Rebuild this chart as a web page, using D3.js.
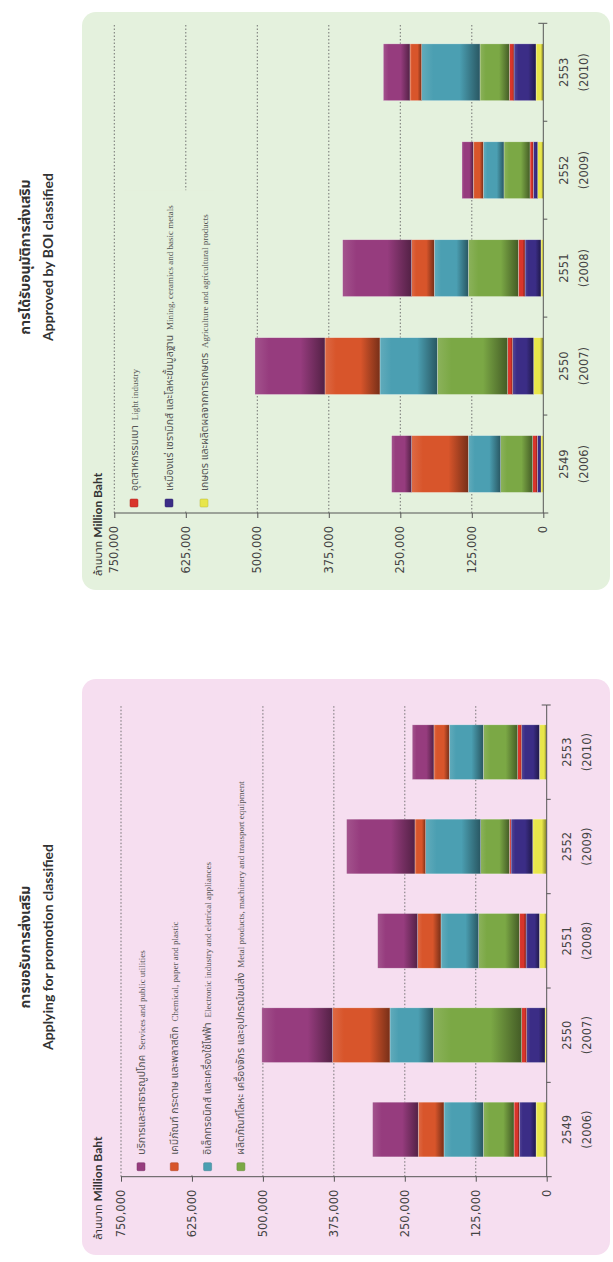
<!DOCTYPE html>
<html><head><meta charset="utf-8">
<script src="https://cdn.jsdelivr.net/npm/d3@7"></script>
<style>body{margin:0;background:#fff}svg{display:block}</style>
</head><body>
<svg id="c" width="613" height="1262"></svg>
<script>
// ---------- DATA (million baht) ----------
const years   = ["2549","2550","2551","2552","2553"];
const yearsAD = ["(2006)","(2007)","(2008)","(2009)","(2010)"];
const valueTicks = [0,125000,250000,375000,500000,625000,750000];
const seriesKeys = ["agri","mining","light","metal","electronic","chemical","services"];

// Applying for promotion
const applyAgri       = [18800,  3000, 12900, 24600, 12900];
const applyMining     = [29400, 32300, 23500, 38300, 31200];
const applyLight      = [ 9400,  8800, 11800,  2900,  7000];
const applyMetal      = [54100,155700, 71700, 50500, 60600];
const applyElectronic = [69300, 76400, 66400, 97000, 60000];
const applyChemical   = [45300,101100, 41100, 18800, 27000];
const applyServices   = [80500,124600, 70500,120500, 38200];

// Approved by BOI
const apprAgri       = [ 4100, 16900,  4100,  9900, 12800];
const apprMining     = [ 6400, 36700, 27900,  7600, 38500];
const apprLight      = [ 8100,  8800, 11700,  5800,  8100];
const apprMetal      = [56000,122900, 87400, 45500, 51300];
const apprElectronic = [56500,100300, 59500, 36100,102000];
const apprChemical   = [99100, 96100, 39600, 17500, 20400];
const apprServices   = [35000,122400,120600, 19800, 46600];

const seriesColors = {agri:"#e8e64a", mining:"#3b2d86", light:"#d9352b", metal:"#7ba845",
                      electronic:"#4b9fb2", chemical:"#d8552b", services:"#963c7e"};
const legendThai = {services:"บริการและสาธารณูปโภค", chemical:"เคมีภัณฑ์ กระดาษ และพลาสติก",
  electronic:"อิเล็กทรอนิกส์ และเครื่องใช้ไฟฟ้า", metal:"ผลิตภัณฑ์โลหะ เครื่องจักร และอุปกรณ์ขนส่ง",
  light:"อุตสาหกรรมเบา", mining:"เหมืองแร่ เซรามิกส์ และโลหะขั้นมูลฐาน", agri:"เกษตร และผลิตผลจากการเกษตร"};
const legendEng = {services:"Services and public utilities", chemical:"Chemical, paper and plastic",
  electronic:"Electronic industry and eletrical appliances", metal:"Metal products, machinery and transport equipment",
  light:"Light industry", mining:"Mining, ceramics and basic metals", agri:"Agriculture and agricultural products"};

function rows(a){ return years.map((y,i)=>({year:y, agri:a[0][i], mining:a[1][i], light:a[2][i], metal:a[3][i],
  electronic:a[4][i], chemical:a[5][i], services:a[6][i]})); }
const applyRows = rows([applyAgri,applyMining,applyLight,applyMetal,applyElectronic,applyChemical,applyServices]);
const apprRows  = rows([apprAgri,apprMining,apprLight,apprMetal,apprElectronic,apprChemical,apprServices]);

// ---------- DRAW ----------
const svg = d3.select("#c");
const defs = svg.append("defs");
seriesKeys.forEach(k=>{
  const c = d3.color(seriesColors[k]);
  const gr = defs.append("linearGradient").attr("id","g_"+k).attr("x1",0).attr("y1",0).attr("x2",0).attr("y2",1);
  gr.append("stop").attr("offset","0%").attr("stop-color", d3.interpolateRgb(c,"#fff")(0.12));
  gr.append("stop").attr("offset","20%").attr("stop-color", c.formatHex());
  gr.append("stop").attr("offset","65%").attr("stop-color", c.formatHex());
  gr.append("stop").attr("offset","100%").attr("stop-color", d3.interpolateRgb(c,"#000")(0.45));
});
const root = svg.append("g").attr("transform","translate(0,1262) rotate(-90)");
const THAI = "'Noto Sans Thai','Noto Sans Thai UI','Loma','Garuda','Noto Sans',sans-serif";
const NUM = "'DejaVu Sans',Verdana,sans-serif";

function drawChart(o){
  const g = root.append("g");
  g.append("rect").attr("x",o.px).attr("y",82).attr("width",o.pw).attr("height",528).attr("rx",14).attr("fill",o.bg);
  const x = d3.scaleBand().domain(years).range([o.u0,o.u1]).padding(0);
  const y = d3.scaleLinear().domain([0,750000]).range([o.v0,o.v750]);
  const bw = x.bandwidth();

  // titles
  g.append("text").attr("x",o.tc).attr("y",30).attr("text-anchor","middle")
    .style("font-family",THAI).style("font-size","14px").style("font-weight","bold").attr("fill","#333").text(o.titleTh);
  g.append("text").attr("x",o.tc).attr("y",53).attr("text-anchor","middle")
    .style("font-family","Lato,'Open Sans',sans-serif").style("font-size","14px").style("font-weight","bold").attr("fill","#333").text(o.titleEn);

  // y label
  const yl = g.append("text").attr("x",o.u0-63).attr("y",102).attr("fill","#333");
  yl.append("tspan").style("font-family",THAI).style("font-size","11px").text("ล้านบาท ");
  yl.append("tspan").style("font-family","Lato,sans-serif").style("font-size","12px").style("font-weight","bold").text(" Million Baht");

  // gridlines
  g.append("g").selectAll("line").data(valueTicks.filter(d=>d>0)).join("line")
    .attr("x1",o.u0).attr("x2",o.u1).attr("y1",d=>y(d)).attr("y2",d=>y(d))
    .attr("stroke","#666").attr("stroke-width",0.9).attr("stroke-dasharray","1.5,2");

  // legend (with background covering the gridline)
  const lg = g.append("g");
  const lbg = lg.append("rect").attr("fill",o.bg);
  let maxEnd = 0;
  o.legend.forEach((k,i)=>{
    const v = o.legV0 + o.legStep*i;
    lg.append("rect").attr("x",o.u0+6).attr("y",v-4).attr("width",8).attr("height",8).attr("rx",1)
      .attr("fill",seriesColors[k]).attr("stroke",d3.color(seriesColors[k]).darker(0.6)).attr("stroke-width",0.5);
    const t = lg.append("text").attr("x",o.u0+22).attr("y",v+3.5).attr("fill","#555");
    t.append("tspan").style("font-family",THAI).style("font-size","10.5px").text(legendThai[k]);
    t.append("tspan").attr("dx",5).style("font-family","'Liberation Serif','Times New Roman',serif").style("font-size","9px").text(legendEng[k]);
    maxEnd = Math.max(maxEnd, o.u0+22+t.node().getComputedTextLength());
  });
  const lEnd = o.fullLegendBg ? o.u1 : Math.min(o.u1, maxEnd+20);
  lbg.attr("x",o.u0+2).attr("y",o.legV0-10).attr("width",lEnd-o.u0-2).attr("height",o.legStep*(o.legend.length-1)+20);

  // bars
  const stacked = d3.stack().keys(seriesKeys)(o.data);
  g.append("g").selectAll("g").data(stacked).join("g").attr("fill",d=>`url(#g_${d.key})`)
    .selectAll("rect").data(d=>d).join("rect")
    .attr("x",d=>x(d.data.year)+bw*0.21).attr("width",bw*0.58)
    .attr("y",d=>y(d[1])).attr("height",d=>y(d[0])-y(d[1]))
    .attr("stroke","rgba(255,255,255,0.45)").attr("stroke-width",0.6);

  // value axis
  const ya = d3.axisLeft(y).tickValues(valueTicks).tickSize(5).tickPadding(8).tickFormat(d3.format(","));
  const ga = g.append("g").attr("transform",`translate(${o.u0},0)`).call(ya);
  ga.select(".domain").attr("stroke","#555").attr("d",`M0,${o.v0+5}V${o.v750}`);
  ga.selectAll(".tick line").attr("stroke","#555");
  ga.selectAll(".tick text").style("font-family",NUM).style("font-size","11.5px").attr("fill","#444");

  // category axis
  const cg = g.append("g");
  cg.append("line").attr("x1",o.u0).attr("x2",o.u1).attr("y1",o.v0).attr("y2",o.v0).attr("stroke","#555");
  cg.selectAll(".ct").data(years).join("line").attr("x1",d=>x(d)+bw).attr("x2",d=>x(d)+bw)
    .attr("y1",o.v0).attr("y2",o.v0+4).attr("stroke","#555");
  cg.append("line").attr("x1",o.u1).attr("x2",o.u1).attr("y1",o.v0-5).attr("y2",o.v0).attr("stroke","#555");
  cg.selectAll(".cl1").data(years).join("text").attr("x",d=>x(d)+bw/2).attr("y",o.v0+24.5)
    .attr("text-anchor","middle").style("font-family",NUM).style("font-size","11.5px").attr("fill","#444").text(d=>d);
  cg.selectAll(".cl2").data(yearsAD).join("text").attr("x",(d,i)=>x(years[i])+bw/2).attr("y",o.v0+44.5)
    .attr("text-anchor","middle").style("font-family",NUM).style("font-size","11.5px").attr("fill","#444").text(d=>d);
}

drawChart({px:7, pw:576, bg:"#f6def0", u0:85.3, u1:557, v0:546.7, v750:121, fullLegendBg:true,
  tc:315, titleTh:"การขอรับการส่งเสริม", titleEn:"Applying for promotion classified",
  legend:["services","chemical","electronic","metal"], legV0:141, legStep:33.3, data:applyRows});
drawChart({px:672, pw:578, bg:"#e4f1dd", u0:749, u1:1238.7, v0:543.3, v750:114.3, fullLegendBg:false,
  tc:1005, titleTh:"การได้รับอนุมัติการส่งเสริม", titleEn:"Approved by BOI classified",
  legend:["light","mining","agri"], legV0:134, legStep:35, data:apprRows});
</script>
</body></html>
